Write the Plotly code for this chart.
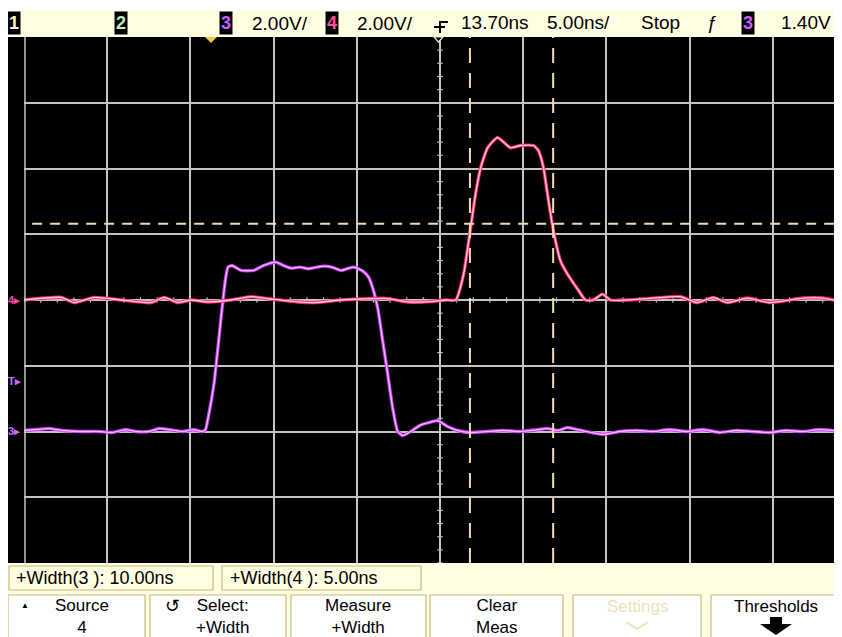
import plotly.graph_objects as go

# ---------------- data (time in ns, volts) ----------------
ch3_t = [-11.3, -10.6, -9.8, -9.0, -8.0, -6.8, -6.0, -5.2, -4.6, -3.8, -3.2, -2.6, -1.8, -1.1, -0.6,
         -0.4, -0.24, 0.12, 0.54, 0.8, 0.96, 1.2, 1.74, 2.5, 3.1, 3.84, 4.3, 4.74, 5.3, 5.76, 6.3,
         6.72, 7.2, 7.74, 8.1, 8.52, 9.06, 9.4, 9.66, 9.96, 10.26, 10.56, 10.86, 11.16, 11.46,
         11.94, 12.54, 13.1, 13.56, 14.16, 14.76, 15.54, 16.5, 17.5, 18.5, 19.5, 20.16, 20.8,
         21.36, 22.2, 23.52, 24.5, 25.5, 26.5, 27.5, 28.5, 29.5, 30.5, 31.5, 32.5, 33.5, 34.5,
         35.5, 36.5, 37.9]
ch3_v = [0.03, 0.06, 0.09, 0.03, 0.0, 0.0, -0.03, 0.06, 0.0, 0.0, 0.09, 0.06, 0.0, 0.06, 0.0,
         0.05, 0.4, 1.46, 3.45, 4.6, 5.0, 5.05, 4.9, 4.9, 5.05, 5.15, 5.05, 4.97, 5.0, 4.95, 5.0,
         5.03, 5.0, 4.9, 4.95, 5.0, 4.88, 4.7, 4.36, 3.75, 2.74, 1.74, 0.7, 0.0, -0.12,
         0.0, 0.2, 0.28, 0.33, 0.15, 0.03, -0.03, 0.0, 0.03, 0.0, 0.05, 0.09, 0.03,
         0.12, 0.03, -0.09, 0.0, 0.03, 0.0, 0.06, 0.0, 0.06, -0.03, 0.03, 0.0, -0.03, 0.03,
         0.0, 0.06, 0.0]

ch4_t = [-11.3, -9.06, -8.28, -7.08, -5.46, -3.66, -2.88, -2.04, -1.26, -0.24, 1.14, 2.34, 3.54,
         5.16, 6.12, 7.74, 8.94, 10.44, 11.76, 13.14, 14.04, 14.64, 15.12, 15.54, 15.84, 16.14,
         16.56, 17.16, 17.94, 18.54, 19.32, 19.62, 19.92, 20.22, 20.52, 20.94, 21.36, 21.96,
         22.44, 22.92, 23.46, 23.94, 24.96, 26.34, 28.14, 29.16, 30.12, 30.96, 32.16, 33.54,
         35.52, 36.72, 37.9]
ch4_v = [0.0, 0.08, -0.08, 0.08, 0.0, -0.08, 0.08, -0.08, 0.0, -0.06, 0.0, 0.1, 0.03,
         -0.06, -0.08, 0.0, 0.03, 0.05, -0.06, -0.05, 0.0, 0.0, 0.79, 2.2, 3.23, 4.02,
         4.63, 4.94, 4.63, 4.7, 4.7, 4.54, 4.02, 3.02, 2.1, 1.19, 0.79, 0.34,
         0.0, 0.0, 0.18, 0.0, 0.0, 0.05, 0.1, -0.08, 0.08, -0.08, 0.06, -0.08,
         0.06, 0.06, -0.06]

time_center_ns = 13.7
time_per_div_ns = 5.0
volts_per_div = 2.0
trigger_level_v = 1.40
cursor_t = [15.5, 20.5]
cursor_ch4_v = 2.32

header_texts = ["2.00V/", "2.00V/", "13.70ns", "5.00ns/", "Stop", "1.40V"]
meas_texts = ["+Width(3 ): 10.00ns", "+Width(4 ): 5.00ns"]
softkey_texts = ["Source<br>4", "Select:<br>+Width", "Measure<br>+Width", "Clear<br>Meas", "Settings", "Thresholds"]

# ---------------- geometry (reference pixels; page has an 8px body margin) ----------------
OFF = 8
W, H = 842 - OFF, 637 - OFF
L, R, T, B = 24, 842, 37, 563          # plot area in reference pixels
x_lo = time_center_ns - 5 * time_per_div_ns
x_hi = time_center_ns + (R - 440) / 83.2 * time_per_div_ns


def PX(px):
    return (px - L) / (R - L)


def PY(py):
    return (B - py) / (B - T)


FONT = "Liberation Sans, Arial, sans-serif"
BAR = "#FFFDE2"
EDGE = "#cdb97c"

fig = go.Figure()

# center graticule minor ticks
yt = [-4 + 0.4 * i for i in range(41)]
fig.add_trace(go.Scatter(x=[time_center_ns] * len(yt), y=yt, mode="markers",
                         marker=dict(symbol="line-ew", size=4, line=dict(color="#bdbdbd", width=1.2)),
                         hoverinfo="skip", showlegend=False))
xt = [x_lo + 1.0 * i for i in range(50)]
fig.add_trace(go.Scatter(x=xt, y=[4] * len(xt), mode="markers",
                         marker=dict(symbol="line-ns", size=4, line=dict(color="#bdbdbd", width=1.2)),
                         hoverinfo="skip", showlegend=False))

# channel 4 (pink) on yaxis2
fig.add_trace(go.Scatter(x=ch4_t, y=ch4_v, yaxis="y2", mode="lines",
                         line=dict(color="#ff2a70", width=3.4, shape="spline", smoothing=0.5),
                         hoverinfo="skip", showlegend=False))
fig.add_trace(go.Scatter(x=ch4_t, y=ch4_v, yaxis="y2", mode="lines",
                         line=dict(color="#ffd0e6", width=1.3, shape="spline", smoothing=0.5),
                         hoverinfo="skip", showlegend=False))
# channel 3 (violet)
fig.add_trace(go.Scatter(x=ch3_t, y=ch3_v, mode="lines",
                         line=dict(color="#c43cf2", width=3.4, shape="spline", smoothing=0.5),
                         hoverinfo="skip", showlegend=False))
fig.add_trace(go.Scatter(x=ch3_t, y=ch3_v, mode="lines",
                         line=dict(color="#f6bcff", width=1.3, shape="spline", smoothing=0.5),
                         hoverinfo="skip", showlegend=False))

shapes = []
# left black strip
shapes.append(dict(type="rect", xref="paper", yref="paper", x0=PX(5), x1=PX(L), y0=0, y1=1,
                   fillcolor="black", line=dict(width=0), layer="above"))
shapes.append(dict(type="line", xref="paper", yref="paper", x0=0.0012, x1=0.0012, y0=0, y1=1,
                   line=dict(color="#c4c4c4", width=1.5), layer="above"))
# header bar
shapes.append(dict(type="rect", xref="paper", yref="paper", x0=PX(5), x1=PX(842), y0=PY(37), y1=PY(10),
                   fillcolor=BAR, line=dict(width=0), layer="above"))
# bottom bars
shapes.append(dict(type="rect", xref="paper", yref="paper", x0=PX(5), x1=PX(842), y0=PY(637), y1=PY(563),
                   fillcolor=BAR, line=dict(width=0), layer="above"))
for a, b in [(9, 213), (222, 421)]:
    shapes.append(dict(type="rect", xref="paper", yref="paper", x0=PX(a), x1=PX(b), y0=PY(590), y1=PY(566),
                       fillcolor=BAR, line=dict(color=EDGE, width=1.2), layer="above"))
soft_boxes = [(8, 145), (150, 286), (291, 426), (430, 563), (573, 701), (711, 840)]
for a, b in soft_boxes:
    shapes.append(dict(type="rect", xref="paper", yref="paper", x0=PX(a), x1=PX(b), y0=PY(640), y1=PY(595),
                       fillcolor="white", line=dict(color=EDGE, width=1.2), layer="above"))

# cursors
for ct in cursor_t:
    shapes.append(dict(type="line", xref="x", yref="paper", x0=ct, x1=ct, y0=0, y1=1,
                       line=dict(color="#f2d9b0", width=2, dash="15px,10px"), layer="above"))
shapes.append(dict(type="line", xref="paper", yref="y2", x0=0.01, x1=1, y0=cursor_ch4_v, y1=cursor_ch4_v,
                   line=dict(color="#f2d9b0", width=2, dash="10px,8px"), layer="above"))

# trigger position marker (yellow) and delay marker
shapes.append(dict(type="path", xref="paper", yref="paper",
                   path=f"M {PX(205)},{PY(37)} L {PX(217)},{PY(37)} L {PX(211)},{PY(43)} Z",
                   fillcolor="#f5c842", line=dict(width=0), layer="above"))
shapes.append(dict(type="path", xref="paper", yref="paper",
                   path=f"M {PX(434)},{PY(37)} L {PX(443)},{PY(37)} L {PX(438.5)},{PY(42)} Z",
                   fillcolor="black", line=dict(color="#f0e6c8", width=1.2), layer="above"))
# delay icon in header
shapes.append(dict(type="path", xref="paper", yref="paper",
                   path=f"M {PX(448)},{PY(22)} L {PX(440)},{PY(22)} L {PX(440)},{PY(33)} M {PX(434)},{PY(27)} L {PX(445)},{PY(27)}",
                   line=dict(color="black", width=2), layer="above"))
# Thresholds arrow
shapes.append(dict(type="path", xref="paper", yref="paper",
                   path=f"M {PX(770)},{PY(617)} L {PX(782)},{PY(617)} L {PX(782)},{PY(624)} L {PX(792)},{PY(624)} "
                        f"L {PX(776)},{PY(635)} L {PX(760)},{PY(624)} L {PX(770)},{PY(624)} Z",
                   fillcolor="black", line=dict(width=0), layer="above"))
# Settings (greyed) arrow
shapes.append(dict(type="path", xref="paper", yref="paper",
                   path=f"M {PX(626)},{PY(622)} L {PX(637)},{PY(629)} L {PX(648)},{PY(622)}",
                   line=dict(color="#ece4b8", width=2), layer="above"))

ann = []


def text(px, py, s, size=19, color="black", bg=None, anchor="center", bold=False):
    d = dict(xref="paper", yref="paper", x=PX(px), y=PY(py), text=f"<b>{s}</b>" if bold else s,
             showarrow=False, xanchor=anchor, yanchor="middle",
             font=dict(family=FONT, size=size, color=color))
    if bg:
        d.update(bgcolor=bg, borderpad=1)
    ann.append(d)


# header
text(14, 23, "1", size=18, color="#fff6d0", bg="black", bold=True)
text(121, 23, "2", size=18, color="#b8f0b8", bg="black", bold=True)
text(226, 23, "3", size=18, color="#c860ff", bg="black", bold=True)
text(280, 23, header_texts[0])
text(332, 23, "4", size=18, color="#ff50a0", bg="black", bold=True)
text(385, 23, header_texts[1])
text(495, 22, header_texts[2])
text(578, 22, header_texts[3])
text(660, 22, header_texts[4])
text(712, 22, "ƒ", size=19)
text(748, 23, "3", size=18, color="#c860ff", bg="black", bold=True)
text(806, 22, header_texts[5])

# channel ground markers
text(6, 300, "4▸", size=11, color="#ff4a96", anchor="left", bold=True)
text(6, 381, "T▸", size=11, color="#c86cff", anchor="left", bold=True)
text(6, 431, "3▸", size=11, color="#c86cff", anchor="left", bold=True)

# measurement bar
text(14, 578, meas_texts[0], size=18, anchor="left")
text(228, 578, meas_texts[1], size=18, anchor="left")

# softkeys
text(25, 605, "▲", size=8)
text(82, 616, softkey_texts[0], size=17)
text(172, 606, "↺", size=18)
text(222, 616, softkey_texts[1], size=17)
text(358, 616, softkey_texts[2], size=17)
text(497, 616, softkey_texts[3], size=17)
text(637, 606, softkey_texts[4], size=17, color="#ece4b8")
text(776, 606, softkey_texts[5], size=17)

fig.update_layout(
    width=W, height=H,
    margin=dict(l=L - OFF, r=(842 - R), t=T - OFF, b=637 - B, pad=0),
    paper_bgcolor="white", plot_bgcolor="black",
    showlegend=False,
    xaxis=dict(range=[x_lo, x_hi], tickmode="linear", tick0=x_lo, dtick=time_per_div_ns,
               showgrid=True, gridcolor="#c4c4c4", gridwidth=1.5, zeroline=False,
               showticklabels=False, ticks="", showline=False, fixedrange=True),
    yaxis=dict(range=[-2 * volts_per_div, 6 * volts_per_div], tickmode="linear", tick0=-4,
               dtick=volts_per_div, showgrid=True, gridcolor="#c4c4c4", gridwidth=1.5,
               zeroline=False, showticklabels=False, ticks="", showline=False, fixedrange=True),
    yaxis2=dict(range=[-4 * volts_per_div, 4 * volts_per_div], overlaying="y", visible=False,
                showgrid=False, zeroline=False, fixedrange=True),
    shapes=shapes, annotations=ann,
)

fig.write_html("out.html")
